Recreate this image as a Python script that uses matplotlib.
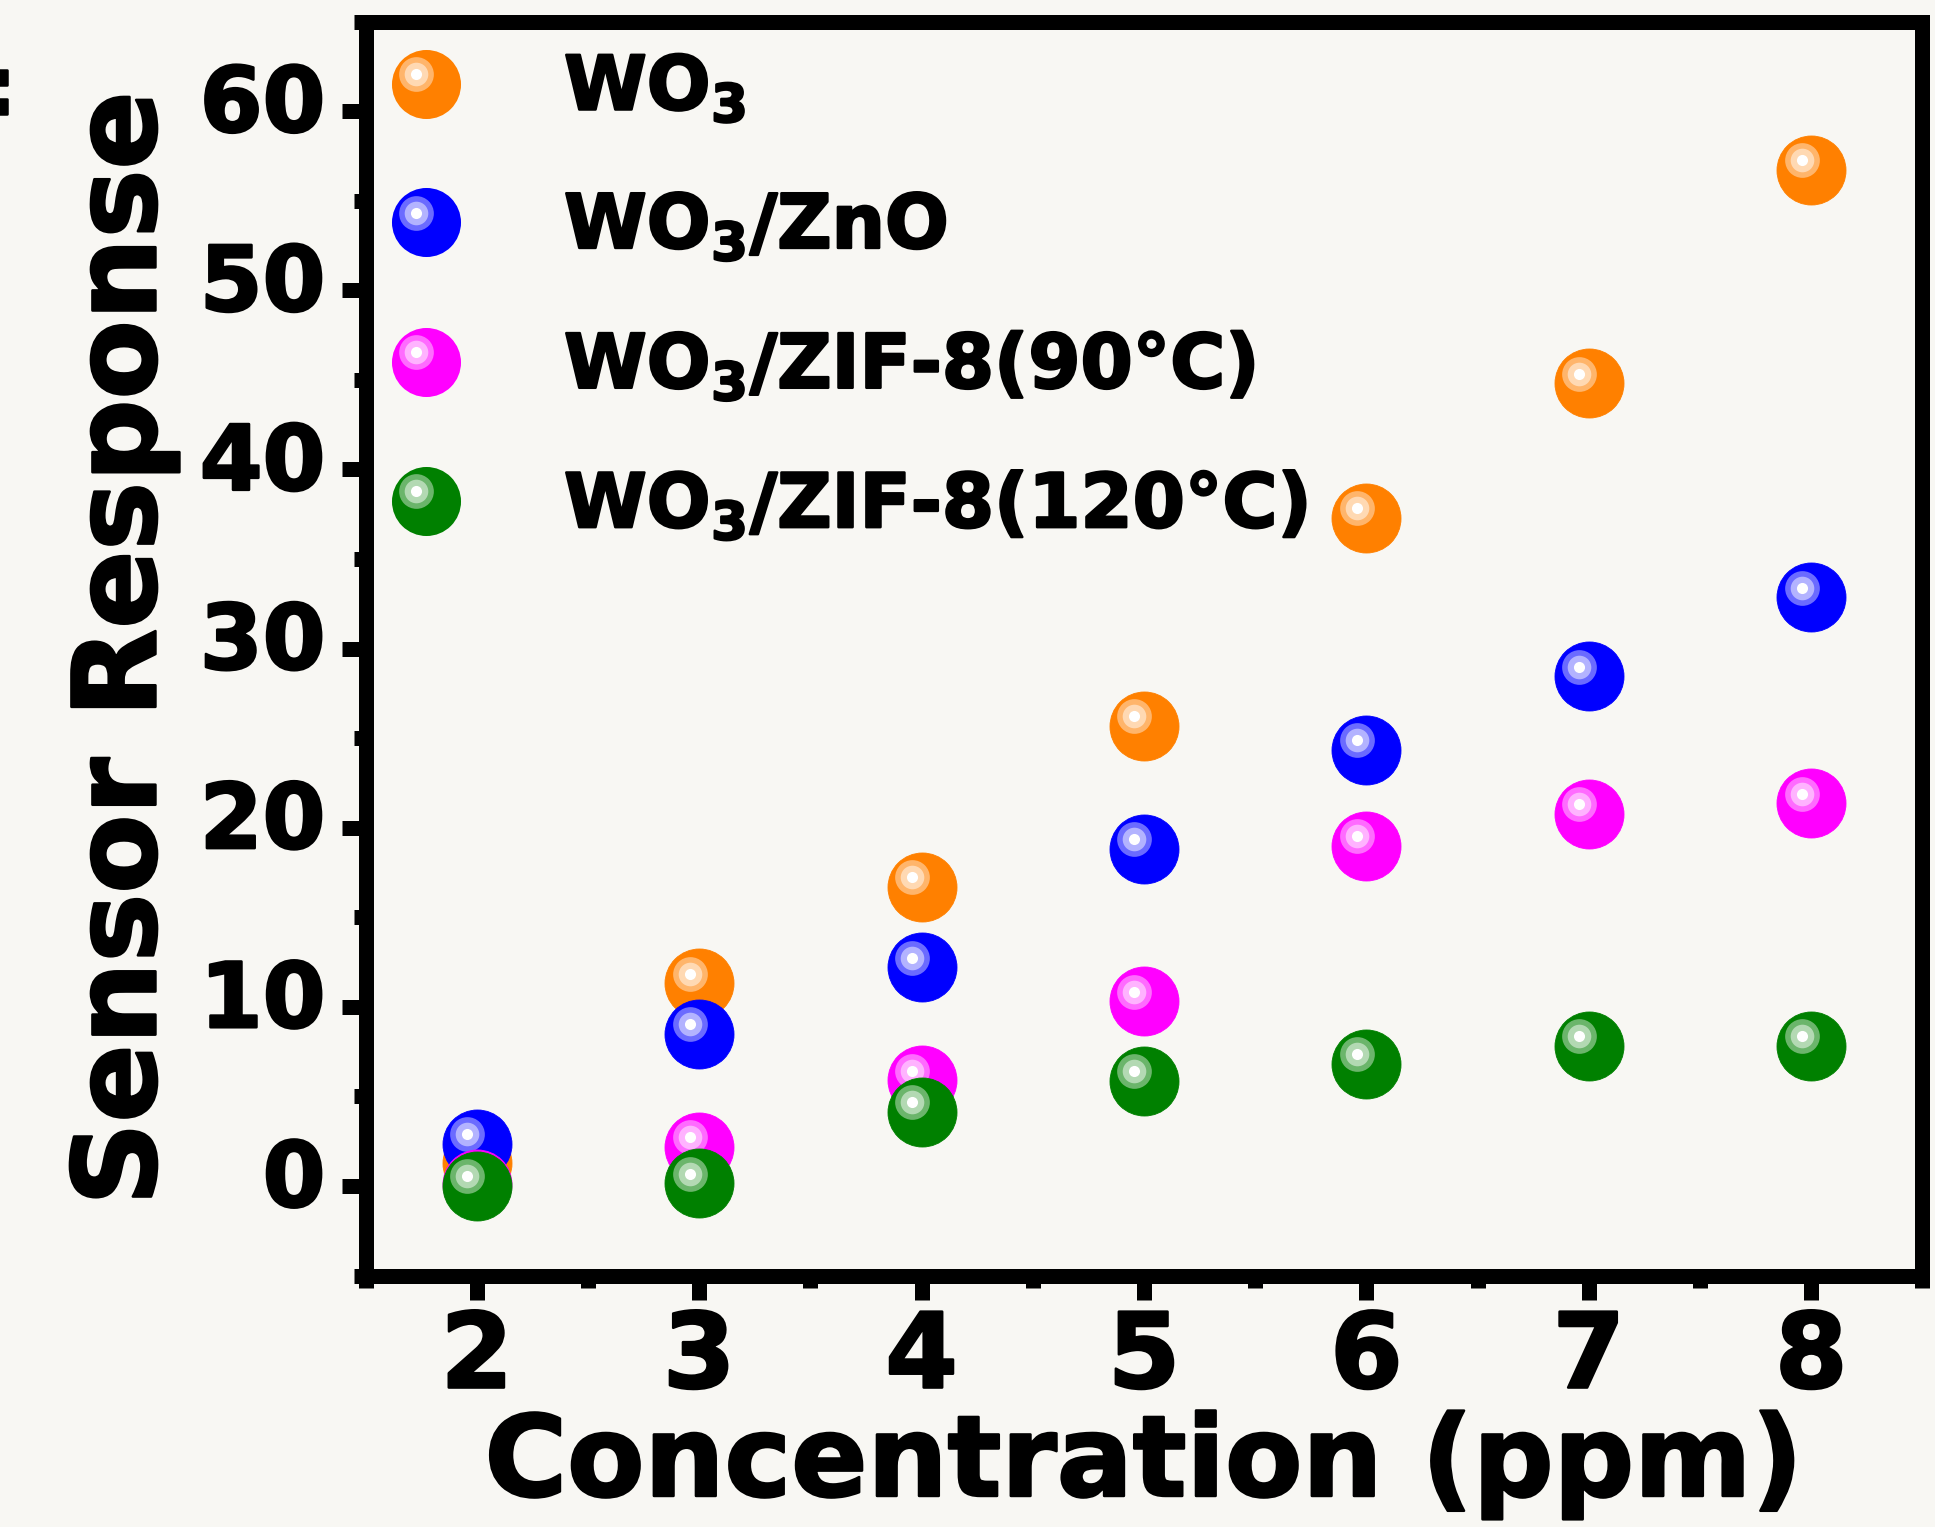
import matplotlib
matplotlib.use("Agg")
import matplotlib.pyplot as plt
import matplotlib.patheffects as pe
from matplotlib.lines import Line2D
from matplotlib.legend_handler import HandlerBase
from matplotlib.ticker import FixedLocator, MultipleLocator
from matplotlib.transforms import offset_copy, ScaledTranslation
from matplotlib.colors import to_rgb

# ---------------- data ----------------
concentration = [2, 3, 4, 5, 6, 7, 8]
resp_wo3 = [1.3, 11.3, 16.7, 25.7, 37.3, 44.8, 56.7]
resp_wo3_zno = [2.35, 8.5, 12.2, 18.8, 24.35, 28.45, 32.85]
resp_zif90 = [0.1, 2.2, 5.9, 10.3, 19.0, 20.75, 21.35]
resp_zif120 = [0.0, 0.15, 4.15, 5.85, 6.8, 7.8, 7.8]

series_labels = ["WO$_3$", "WO$_3$/ZnO", "WO$_3$/ZIF-8(90°C)", "WO$_3$/ZIF-8(120°C)"]
series_colors = ["#ff8000", "#0000ff", "#ff00ff", "#008000"]
series_values = [resp_wo3, resp_wo3_zno, resp_zif90, resp_zif120]

x_ticks = [2, 3, 4, 5, 6, 7, 8]
y_ticks = [0, 10, 20, 30, 40, 50, 60]

# ---------------- style ----------------
BG = "#f8f7f3"
plt.rcParams["font.family"] = ["DejaVu Sans"]
plt.rcParams["font.weight"] = "bold"
plt.rcParams["mathtext.default"] = "regular"

HEAVY = [pe.withStroke(linewidth=1.8, foreground="black")]

fig = plt.figure(figsize=(19.35, 15.27), dpi=100, facecolor=BG)
ax = fig.add_axes([0.18889, 0.16470, 0.80465, 0.82122], facecolor=BG)

MS = 49.7          # sphere diameter (pt)
HX, HY = -6.9, 7.0  # highlight offset (pt)


def mix(c, f):
    r, g, b = to_rgb(c)
    return (r + (1 - r) * f, g + (1 - g) * f, b + (1 - b) * f)


def layers(color):
    return [(0, 0, MS, color),
            (HX, HY, 25.0, mix(color, 0.42)),
            (HX, HY, 17.0, mix(color, 0.70)),
            (HX, HY, 8.0, (1, 1, 1))]


hl_trans = offset_copy(ax.transData, fig=fig, x=HX, y=HY, units="points")

handles = []
for i, (vals, col) in enumerate(zip(series_values, series_colors)):
    base = None
    for j, (dx, dy, ms, c) in enumerate(layers(col)):
        tr = ax.transData if j == 0 else hl_trans
        ln, = ax.plot(concentration, vals, ls="none", marker="o", ms=ms,
                      mfc=c, mec=c, mew=0.6 if j == 0 else 0,
                      transform=tr, zorder=3 + i + 0.1 * j, clip_on=False)
        if j == 0:
            base = ln
    handles.append(base)


class SphereHandler(HandlerBase):
    def __init__(self, color):
        super().__init__()
        self.color = color

    def create_artists(self, legend, orig_handle, xdescent, ydescent,
                       width, height, fontsize, trans):
        cx = width / 2 - xdescent
        cy = height / 2 - ydescent
        arts = []
        for (dx, dy, ms, c) in layers(self.color):
            l = Line2D([cx + dx], [cy + dy], ls="none", marker="o", ms=ms,
                       mfc=c, mec=c, mew=0)
            l.set_transform(trans)
            arts.append(l)
        return arts


FS_LEG = 54
hmap = {h: SphereHandler(c) for h, c in zip(handles, series_colors)}
leg = ax.legend(handles, series_labels, handler_map=hmap, loc="upper left",
                bbox_to_anchor=(0.0148, 0.9748), frameon=False,
                prop={"family": "DejaVu Sans", "weight": "bold", "size": FS_LEG},
                handlelength=1.0, handletextpad=1.34, labelspacing=0.872,
                borderpad=0, borderaxespad=0)
leg.set_zorder(20)
for t in leg.get_texts():
    t.set_path_effects(HEAVY)

# ---------------- axes ----------------
ax.set_xlim(1.5, 8.5)
ax.set_ylim(-5, 65)
ax.xaxis.set_major_locator(FixedLocator(x_ticks))
ax.yaxis.set_major_locator(FixedLocator(y_ticks))
ax.xaxis.set_minor_locator(MultipleLocator(0.5))
ax.yaxis.set_minor_locator(MultipleLocator(5))
ax.set_xticklabels([str(v) for v in x_ticks])
ax.set_yticklabels([str(v) for v in y_ticks])

for s in ax.spines.values():
    s.set_linewidth(10.8)
    s.set_color("black")
    s.set_capstyle("projecting")
    s.set_zorder(30)

ax.tick_params(which="major", direction="out", length=17.3, width=10.8,
               color="black", top=False, right=False)
ax.tick_params(which="minor", direction="out", length=8.3, width=10.8,
               color="black", top=False, right=False)
ax.tick_params(axis="y", which="major", labelsize=65, pad=11.5)
ax.tick_params(axis="x", which="major", labelsize=75, pad=6.5)
for lab in ax.get_xticklabels() + ax.get_yticklabels():
    lab.set_fontweight("bold")
    lab.set_path_effects(HEAVY)
for lab in ax.get_yticklabels():
    lab.set_transform(lab.get_transform() +
                      ScaledTranslation(0, 0.14, fig.dpi_scale_trans))

ax.set_xlabel("Concentration (ppm)", fontsize=81, fontweight="bold",
              va="baseline", path_effects=HEAVY)
ax.xaxis.set_label_coords(0.5, -0.1758)
ax.set_ylabel("Sensor Response", fontsize=83, fontweight="bold",
              va="baseline", path_effects=HEAVY)
ax.yaxis.set_label_coords(-0.1349, 0.5)

# cropped panel-label remnant at the far left edge
fig.text(15.6 / 1935, 1 - 114 / 1527, ":", ha="right", va="baseline",
         fontsize=58, fontweight="bold", path_effects=HEAVY)

fig.savefig("out.png", dpi=100, facecolor=BG)
